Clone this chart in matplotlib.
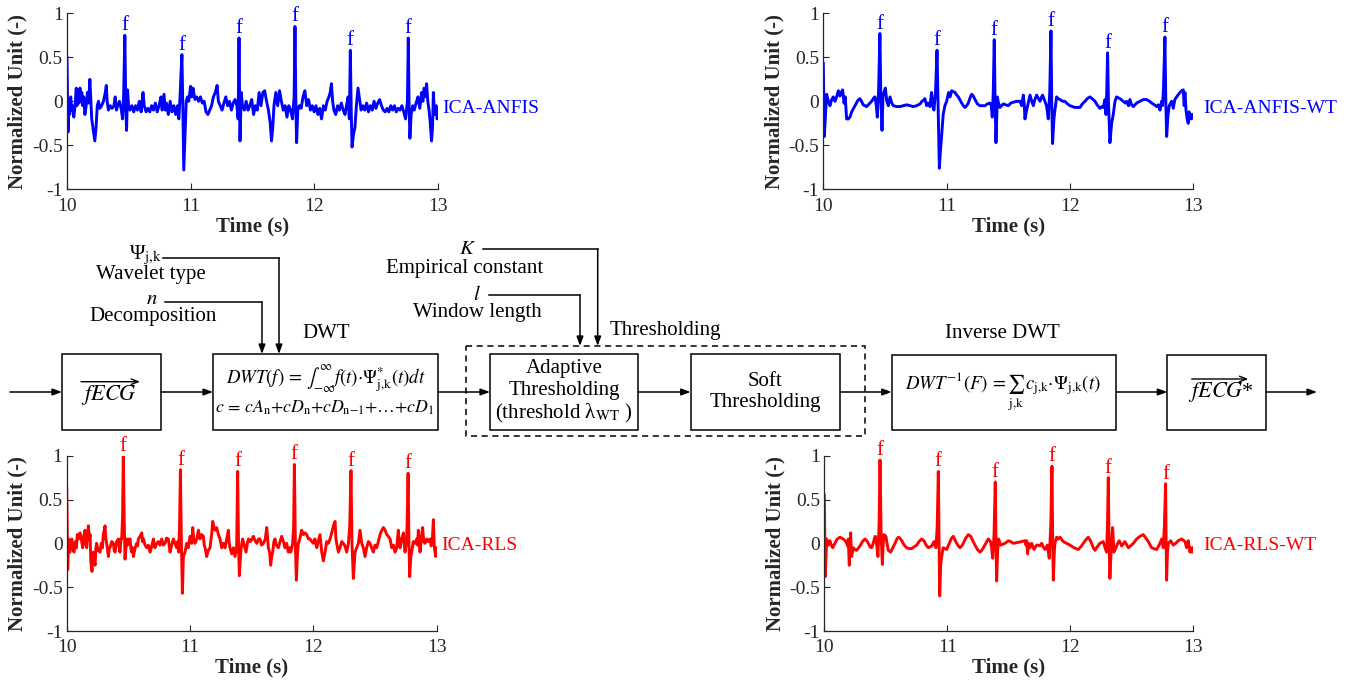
import numpy as np
import matplotlib
matplotlib.use("Agg")
import matplotlib.pyplot as plt
from matplotlib.patches import Rectangle

plt.rcParams["font.family"] = ["Liberation Serif", "DejaVu Serif"]
plt.rcParams["mathtext.fontset"] = "stix"
plt.rcParams["axes.unicode_minus"] = False

W, H = 1347, 683

# (time in s, normalized amplitude) of each extracted fECG trace
ica_anfis = [
    (10.000, 0.50), (10.008, -0.35), (10.015, -0.05), (10.022, -0.15), (10.030, 0.05),
    (10.038, -0.10), (10.045, -0.05), (10.055, -0.18), (10.065, -0.05), (10.075, 0.15),
    (10.080, -0.05), (10.090, 0.12), (10.098, -0.02), (10.105, 0.15), (10.112, 0.00),
    (10.120, 0.10), (10.128, -0.05), (10.135, 0.05), (10.145, -0.15), (10.155, -0.05),
    (10.165, 0.10), (10.175, -0.02), (10.185, 0.25), (10.192, 0.05), (10.200, -0.20),
    (10.210, -0.30), (10.225, -0.45), (10.235, -0.30), (10.245, -0.05), (10.255, 0.00),
    (10.265, -0.08), (10.280, -0.05), (10.295, 0.00), (10.310, 0.10), (10.318, 0.18),
    (10.325, 0.00), (10.335, -0.10), (10.350, -0.05), (10.365, -0.08), (10.380, -0.05),
    (10.390, 0.05), (10.400, -0.10), (10.410, -0.05), (10.425, 0.00), (10.440, -0.10),
    (10.450, -0.20), (10.458, 0.05), (10.468, 0.75), (10.476, -0.05), (10.482, -0.33),
    (10.490, 0.13), (10.498, -0.05), (10.510, -0.10), (10.525, -0.05), (10.540, -0.12),
    (10.555, -0.05), (10.570, -0.10), (10.585, 0.00), (10.600, -0.12), (10.615, 0.10),
    (10.625, -0.05), (10.640, -0.12), (10.655, -0.08), (10.670, -0.12), (10.685, -0.05),
    (10.700, -0.10), (10.715, -0.02), (10.730, -0.12), (10.745, -0.05), (10.760, 0.05),
    (10.770, -0.10), (10.785, 0.08), (10.795, -0.10), (10.805, -0.02), (10.820, -0.15),
    (10.835, 0.00), (10.850, -0.12), (10.865, -0.05), (10.880, -0.15), (10.895, -0.05),
    (10.905, -0.20), (10.915, 0.05), (10.922, 0.30), (10.930, 0.53), (10.938, -0.10),
    (10.945, -0.78), (10.955, -0.40), (10.965, 0.00), (10.975, 0.05), (10.985, 0.00),
    (11.000, 0.17), (11.010, 0.05), (11.020, 0.15), (11.035, 0.02), (11.050, 0.05),
    (11.065, 0.00), (11.080, 0.05), (11.095, -0.02), (11.110, 0.00), (11.125, -0.12),
    (11.140, -0.15), (11.155, -0.10), (11.170, -0.05), (11.185, 0.05), (11.200, 0.10),
    (11.215, 0.18), (11.225, 0.00), (11.240, -0.05), (11.255, -0.10), (11.270, -0.02),
    (11.285, 0.05), (11.300, -0.05), (11.315, 0.00), (11.330, -0.10), (11.345, -0.02),
    (11.360, 0.02), (11.375, -0.05), (11.385, -0.20), (11.392, 0.72), (11.400, -0.45),
    (11.410, 0.10), (11.420, -0.05), (11.435, -0.10), (11.450, 0.00), (11.465, -0.10),
    (11.480, -0.05), (11.495, 0.02), (11.510, -0.15), (11.525, -0.05), (11.540, -0.10),
    (11.555, 0.10), (11.570, -0.05), (11.585, 0.10), (11.600, 0.12), (11.615, 0.00),
    (11.630, -0.10), (11.645, -0.25), (11.655, -0.45), (11.665, -0.30), (11.675, -0.05),
    (11.690, 0.10), (11.705, -0.05), (11.720, 0.12), (11.735, 0.00), (11.750, -0.10),
    (11.765, -0.05), (11.780, -0.18), (11.795, -0.05), (11.810, -0.10), (11.825, -0.20),
    (11.838, 0.05), (11.845, 0.85), (11.852, 0.00), (11.858, -0.47), (11.868, -0.10),
    (11.880, -0.05), (11.895, -0.08), (11.910, 0.05), (11.925, 0.12), (11.940, -0.05),
    (11.955, 0.02), (11.970, -0.10), (11.985, -0.05), (12.000, -0.12), (12.015, -0.05),
    (12.030, -0.15), (12.045, -0.08), (12.060, -0.20), (12.075, -0.05), (12.090, -0.10),
    (12.105, 0.00), (12.120, 0.05), (12.130, 0.10), (12.140, 0.20), (12.150, 0.00),
    (12.160, -0.10), (12.175, -0.15), (12.190, -0.05), (12.205, -0.10), (12.220, -0.02),
    (12.235, -0.10), (12.250, -0.15), (12.262, -0.05), (12.275, 0.05), (12.285, -0.20),
    (12.293, 0.58), (12.300, -0.10), (12.307, -0.52), (12.318, -0.38), (12.330, -0.30),
    (12.342, -0.05), (12.355, 0.15), (12.365, 0.05), (12.380, -0.10), (12.395, -0.05),
    (12.410, -0.10), (12.425, -0.02), (12.440, -0.12), (12.455, -0.05), (12.470, -0.10),
    (12.485, 0.00), (12.500, -0.08), (12.515, -0.02), (12.530, 0.02), (12.545, -0.05),
    (12.560, -0.10), (12.575, -0.12), (12.590, -0.08), (12.605, -0.12), (12.620, -0.05),
    (12.635, -0.10), (12.650, -0.05), (12.665, -0.12), (12.680, -0.08), (12.695, -0.10),
    (12.710, -0.05), (12.725, -0.12), (12.740, -0.20), (12.755, 0.00), (12.762, 0.72),
    (12.768, 0.00), (12.775, -0.42), (12.785, -0.15), (12.798, -0.05), (12.810, -0.10),
    (12.825, -0.02), (12.840, 0.05), (12.855, -0.08), (12.870, 0.10), (12.880, 0.00),
    (12.890, 0.15), (12.900, 0.05), (12.910, 0.20), (12.920, 0.00), (12.930, -0.10),
    (12.940, -0.25), (12.950, -0.45), (12.958, -0.30), (12.965, 0.10), (12.972, -0.10),
    (12.980, -0.15), (12.988, -0.05), (12.995, -0.20), (13.000, -0.18),
]

ica_anfis_wt = [
    (10.000, 0.43), (10.008, -0.40), (10.027, 0.08), (10.041, 0.00), (10.054, -0.05),
    (10.068, 0.02), (10.081, 0.05), (10.095, 0.00), (10.108, 0.05), (10.122, 0.12),
    (10.135, 0.06), (10.145, 0.10), (10.157, 0.13), (10.168, -0.02), (10.178, 0.05),
    (10.189, -0.20), (10.203, -0.20), (10.216, -0.18), (10.230, -0.12), (10.257, -0.05),
    (10.280, 0.01), (10.297, 0.03), (10.310, 0.00), (10.324, -0.04), (10.351, -0.06),
    (10.372, -0.03), (10.392, 0.00), (10.410, 0.04), (10.419, 0.05), (10.430, -0.05),
    (10.438, -0.18), (10.448, 0.10), (10.459, 0.77), (10.466, 0.10), (10.476, -0.33),
    (10.484, 0.05), (10.492, 0.10), (10.503, 0.15), (10.515, 0.00), (10.527, -0.05),
    (10.541, 0.05), (10.555, -0.02), (10.568, -0.05), (10.595, -0.06), (10.622, -0.06),
    (10.650, -0.05), (10.676, -0.04), (10.703, -0.05), (10.730, -0.06), (10.757, -0.05),
    (10.784, -0.03), (10.800, 0.00), (10.811, 0.01), (10.824, 0.03), (10.838, -0.05),
    (10.850, -0.02), (10.865, -0.06), (10.878, 0.10), (10.888, -0.05), (10.897, -0.10),
    (10.910, 0.10), (10.922, 0.58), (10.930, 0.00), (10.941, -0.76), (10.950, -0.55),
    (10.959, -0.40), (10.972, -0.15), (10.986, -0.05), (11.000, 0.00), (11.016, 0.10),
    (11.027, 0.05), (11.041, 0.12), (11.055, 0.11), (11.068, 0.10), (11.082, 0.07),
    (11.095, 0.05), (11.110, 0.01), (11.122, -0.02), (11.135, -0.05), (11.149, -0.07),
    (11.162, -0.05), (11.176, -0.02), (11.190, 0.04), (11.203, 0.08), (11.216, 0.06),
    (11.230, 0.02), (11.250, -0.03), (11.270, -0.05), (11.290, -0.05), (11.311, -0.05),
    (11.330, -0.03), (11.351, -0.02), (11.362, -0.05), (11.370, -0.18), (11.378, 0.10),
    (11.386, 0.70), (11.393, 0.00), (11.400, -0.47), (11.411, 0.05), (11.420, -0.02),
    (11.432, -0.07), (11.445, -0.05), (11.459, -0.03), (11.480, -0.04), (11.500, -0.05),
    (11.520, -0.02), (11.541, -0.01), (11.570, 0.00), (11.595, 0.00), (11.608, -0.05),
    (11.622, 0.07), (11.630, -0.05), (11.635, -0.20), (11.649, -0.10), (11.662, -0.02),
    (11.676, 0.07), (11.690, 0.00), (11.703, -0.05), (11.715, 0.02), (11.730, 0.07),
    (11.745, 0.03), (11.757, 0.00), (11.770, 0.05), (11.778, 0.07), (11.797, 0.00),
    (11.810, -0.05), (11.824, -0.20), (11.836, 0.10), (11.846, 0.80), (11.852, 0.00),
    (11.859, -0.48), (11.870, -0.20), (11.878, -0.10), (11.892, 0.05), (11.905, 0.03),
    (11.919, 0.02), (11.940, 0.00), (11.959, 0.00), (11.980, -0.03), (12.000, -0.05),
    (12.040, -0.07), (12.081, -0.07), (12.100, -0.03), (12.122, 0.00), (12.140, 0.03),
    (12.162, 0.05), (12.180, 0.03), (12.203, 0.00), (12.220, -0.04), (12.243, -0.08),
    (12.258, -0.06), (12.270, -0.07), (12.284, 0.02), (12.292, -0.15), (12.298, 0.10),
    (12.305, 0.55), (12.312, 0.00), (12.324, -0.47), (12.338, -0.25), (12.351, -0.15),
    (12.365, 0.00), (12.378, 0.05), (12.405, 0.03), (12.432, 0.00), (12.450, -0.02),
    (12.459, 0.00), (12.475, -0.05), (12.486, 0.02), (12.500, -0.04), (12.514, -0.06),
    (12.540, -0.02), (12.568, 0.00), (12.595, 0.02), (12.622, 0.02), (12.645, 0.00),
    (12.662, -0.02), (12.685, -0.04), (12.703, -0.06), (12.716, -0.04), (12.730, -0.10),
    (12.743, 0.00), (12.750, -0.05), (12.757, 0.10), (12.770, 0.73), (12.777, 0.00),
    (12.784, -0.40), (12.795, -0.15), (12.805, -0.05), (12.824, 0.00), (12.838, -0.08),
    (12.850, 0.02), (12.865, 0.05), (12.880, 0.08), (12.892, 0.10), (12.905, 0.12),
    (12.919, 0.13), (12.926, -0.05), (12.932, 0.10), (12.941, -0.10), (12.950, -0.20),
    (12.959, -0.25), (12.966, -0.12), (12.973, -0.20), (12.980, -0.15), (12.986, -0.20),
    (12.993, -0.15), (13.000, -0.15),
]

ica_rls = [
    (10.000, 0.63), (10.008, -0.30), (10.016, 0.05), (10.027, -0.10), (10.041, 0.05),
    (10.050, -0.05), (10.059, -0.10), (10.070, 0.02), (10.078, -0.05), (10.086, 0.10),
    (10.095, 0.05), (10.108, 0.12), (10.118, 0.05), (10.130, -0.05), (10.138, 0.08),
    (10.149, 0.15), (10.155, 0.00), (10.162, -0.05), (10.170, 0.10), (10.176, 0.20),
    (10.184, 0.05), (10.190, 0.10), (10.195, -0.20), (10.205, -0.32), (10.216, -0.10),
    (10.222, -0.18), (10.230, -0.25), (10.237, -0.05), (10.243, 0.00), (10.255, -0.08),
    (10.270, -0.10), (10.280, 0.00), (10.290, -0.05), (10.297, 0.10), (10.311, 0.20),
    (10.318, 0.05), (10.324, 0.00), (10.338, -0.15), (10.345, -0.05), (10.351, -0.05),
    (10.365, 0.02), (10.378, 0.00), (10.385, -0.08), (10.392, -0.10), (10.405, 0.02),
    (10.419, 0.05), (10.425, -0.02), (10.432, -0.10), (10.440, 0.05), (10.446, 0.05),
    (10.453, 0.30), (10.459, 1.00), (10.466, 0.30), (10.473, -0.18), (10.480, -0.05),
    (10.486, 0.05), (10.493, -0.02), (10.500, 0.00), (10.507, 0.05), (10.514, 0.05),
    (10.520, -0.05), (10.527, -0.10), (10.535, -0.05), (10.541, -0.15), (10.555, -0.05),
    (10.568, 0.00), (10.575, -0.03), (10.581, 0.05), (10.595, 0.08), (10.608, 0.12),
    (10.615, 0.02), (10.622, 0.05), (10.635, -0.02), (10.649, -0.05), (10.662, -0.02),
    (10.676, -0.10), (10.690, -0.03), (10.703, 0.05), (10.710, -0.03), (10.716, -0.05),
    (10.730, 0.00), (10.743, 0.02), (10.757, -0.02), (10.770, 0.05), (10.783, -0.02),
    (10.797, 0.00), (10.810, 0.06), (10.824, 0.05), (10.831, -0.03), (10.838, -0.10),
    (10.851, -0.02), (10.865, 0.05), (10.878, 0.00), (10.892, -0.05), (10.900, 0.02),
    (10.908, -0.10), (10.915, 0.20), (10.922, 0.84), (10.930, 0.00), (10.938, -0.57),
    (10.946, -0.15), (10.959, -0.10), (10.973, 0.00), (10.986, -0.05), (11.000, 0.08),
    (11.014, 0.00), (11.022, 0.18), (11.030, 0.05), (11.041, 0.00), (11.055, 0.05),
    (11.068, 0.15), (11.081, 0.05), (11.095, 0.10), (11.108, 0.08), (11.115, -0.02),
    (11.122, -0.05), (11.135, -0.15), (11.148, -0.08), (11.162, -0.05), (11.175, 0.10),
    (11.184, 0.25), (11.195, 0.18), (11.203, 0.15), (11.216, 0.18), (11.230, 0.10),
    (11.243, 0.05), (11.257, -0.05), (11.270, 0.00), (11.284, -0.05), (11.297, 0.05),
    (11.311, 0.15), (11.318, 0.00), (11.324, -0.05), (11.338, -0.12), (11.352, -0.05),
    (11.365, -0.15), (11.378, -0.05), (11.386, 0.82), (11.393, 0.00), (11.400, -0.37),
    (11.411, -0.10), (11.420, 0.00), (11.427, 0.05), (11.440, -0.02), (11.454, -0.10),
    (11.465, 0.00), (11.473, 0.05), (11.490, 0.02), (11.514, 0.08), (11.527, 0.03),
    (11.541, 0.00), (11.555, 0.05), (11.568, 0.05), (11.580, -0.02), (11.595, 0.00),
    (11.610, 0.05), (11.622, 0.18), (11.635, -0.05), (11.645, -0.10), (11.654, -0.25),
    (11.662, -0.15), (11.670, -0.10), (11.680, 0.02), (11.689, 0.05), (11.700, -0.02),
    (11.716, -0.05), (11.730, 0.02), (11.743, 0.08), (11.757, 0.02), (11.770, -0.05),
    (11.783, 0.00), (11.797, -0.10), (11.808, -0.05), (11.816, -0.10), (11.825, -0.05),
    (11.832, 0.00), (11.840, 0.20), (11.846, 0.90), (11.854, 0.00), (11.862, -0.42),
    (11.870, -0.15), (11.878, 0.00), (11.890, 0.05), (11.905, 0.15), (11.919, 0.10),
    (11.932, 0.12), (11.946, 0.10), (11.960, 0.05), (11.973, 0.05), (11.987, 0.02),
    (12.000, 0.00), (12.013, 0.05), (12.027, -0.05), (12.040, 0.02), (12.054, 0.10),
    (12.068, -0.10), (12.081, -0.20), (12.095, -0.10), (12.108, 0.02), (12.122, 0.00),
    (12.135, 0.05), (12.149, 0.12), (12.162, 0.20), (12.176, 0.25), (12.183, 0.05),
    (12.189, 0.00), (12.203, -0.10), (12.216, -0.05), (12.230, 0.02), (12.243, 0.00),
    (12.256, -0.03), (12.270, -0.10), (12.284, 0.00), (12.295, 0.20), (12.305, 0.83),
    (12.313, 0.00), (12.324, -0.40), (12.338, -0.10), (12.351, -0.05), (12.365, 0.00),
    (12.378, 0.15), (12.392, 0.00), (12.405, -0.05), (12.419, -0.15), (12.432, -0.05),
    (12.446, 0.02), (12.459, 0.00), (12.472, -0.05), (12.486, -0.10), (12.500, -0.02),
    (12.514, -0.05), (12.527, 0.02), (12.541, 0.10), (12.555, 0.15), (12.568, 0.18),
    (12.581, 0.15), (12.595, 0.10), (12.608, 0.08), (12.622, 0.05), (12.635, -0.05),
    (12.649, -0.02), (12.662, -0.10), (12.676, -0.05), (12.689, 0.15), (12.696, 0.00),
    (12.703, -0.05), (12.716, 0.05), (12.730, 0.12), (12.736, 0.00), (12.743, -0.10),
    (12.754, 0.00), (12.760, 0.20), (12.768, 0.80), (12.775, 0.00), (12.781, -0.38),
    (12.790, -0.15), (12.797, -0.10), (12.810, 0.02), (12.824, 0.00), (12.838, 0.05),
    (12.845, -0.02), (12.851, 0.15), (12.858, 0.00), (12.865, -0.10), (12.875, 0.05),
    (12.886, 0.18), (12.895, 0.02), (12.905, 0.00), (12.919, 0.05), (12.932, 0.02),
    (12.946, 0.05), (12.955, -0.03), (12.965, 0.05), (12.973, 0.27), (12.981, -0.05),
    (12.992, -0.15), (13.000, -0.05),
]

ica_rls_wt = [
    (10.000, 0.55), (10.008, -0.38), (10.019, 0.05), (10.033, -0.02), (10.046, 0.03),
    (10.057, -0.02), (10.068, -0.05), (10.087, 0.00), (10.105, 0.05), (10.127, 0.07),
    (10.154, 0.05), (10.176, 0.02), (10.190, -0.03), (10.195, 0.05), (10.203, -0.25),
    (10.214, 0.12), (10.222, -0.15), (10.236, -0.05), (10.250, -0.07), (10.263, -0.08),
    (10.290, -0.03), (10.310, 0.02), (10.331, 0.05), (10.345, 0.03), (10.358, 0.00),
    (10.372, -0.04), (10.385, -0.05), (10.398, 0.00), (10.408, 0.06), (10.415, 0.08),
    (10.425, 0.00), (10.436, -0.15), (10.445, 0.20), (10.453, 0.95), (10.462, 0.10),
    (10.472, -0.24), (10.479, 0.00), (10.485, 0.10), (10.501, 0.08), (10.510, 0.00),
    (10.520, -0.08), (10.539, -0.10), (10.557, -0.05), (10.575, 0.00), (10.590, 0.05),
    (10.602, 0.07), (10.615, 0.06), (10.629, 0.03), (10.650, -0.02), (10.669, -0.05),
    (10.690, -0.06), (10.710, -0.06), (10.730, -0.04), (10.751, -0.02), (10.770, 0.02),
    (10.791, 0.05), (10.810, 0.03), (10.828, -0.02), (10.846, -0.05), (10.860, -0.04),
    (10.873, -0.03), (10.892, 0.02), (10.900, -0.02), (10.908, -0.05), (10.918, 0.20),
    (10.927, 0.82), (10.933, 0.00), (10.938, -0.60), (10.946, -0.25), (10.954, -0.15),
    (10.967, -0.05), (10.980, -0.06), (10.995, -0.07), (11.010, -0.02), (11.022, 0.02),
    (11.035, 0.06), (11.049, 0.08), (11.062, 0.04), (11.076, 0.00), (11.090, -0.03),
    (11.103, -0.05), (11.117, -0.03), (11.130, 0.00), (11.150, 0.06), (11.171, 0.10),
    (11.190, 0.08), (11.207, 0.03), (11.225, -0.02), (11.245, -0.07), (11.266, -0.10),
    (11.280, -0.08), (11.293, -0.05), (11.313, 0.00), (11.333, 0.05), (11.352, 0.02),
    (11.360, -0.05), (11.369, -0.17), (11.380, 0.10), (11.390, 0.70), (11.396, 0.00),
    (11.401, -0.43), (11.409, -0.10), (11.417, 0.05), (11.434, -0.02), (11.450, -0.01),
    (11.469, 0.00), (11.496, 0.03), (11.515, 0.02), (11.537, 0.00), (11.570, 0.01),
    (11.604, 0.02), (11.631, 0.03), (11.640, -0.02), (11.645, 0.03), (11.653, -0.12),
    (11.661, 0.00), (11.672, -0.05), (11.686, 0.00), (11.705, -0.07), (11.726, -0.02),
    (11.740, -0.02), (11.753, -0.03), (11.767, 0.00), (11.780, -0.04), (11.794, -0.07),
    (11.813, -0.02), (11.829, -0.17), (11.841, 0.20), (11.851, 0.88), (11.857, 0.00),
    (11.862, -0.42), (11.870, -0.10), (11.875, 0.00), (11.889, 0.07), (11.902, 0.05),
    (11.916, 0.07), (11.943, 0.02), (11.970, 0.00), (11.997, -0.02), (12.030, -0.05),
    (12.065, -0.07), (12.085, -0.04), (12.106, 0.00), (12.126, 0.04), (12.146, 0.07),
    (12.160, 0.04), (12.173, 0.00), (12.187, -0.05), (12.201, -0.08), (12.214, -0.05),
    (12.240, 0.00), (12.268, 0.02), (12.282, -0.05), (12.295, -0.10), (12.302, 0.20),
    (12.309, 0.75), (12.315, 0.00), (12.322, -0.40), (12.333, -0.05), (12.344, 0.18),
    (12.355, -0.10), (12.371, -0.05), (12.385, 0.00), (12.398, 0.03), (12.417, -0.03),
    (12.444, 0.02), (12.472, -0.05), (12.490, -0.03), (12.512, 0.00), (12.540, 0.05),
    (12.566, 0.08), (12.593, 0.10), (12.615, 0.06), (12.634, 0.02), (12.661, -0.05),
    (12.680, -0.06), (12.702, -0.07), (12.729, 0.00), (12.743, 0.05), (12.756, -0.05),
    (12.765, 0.20), (12.775, 0.68), (12.779, 0.00), (12.783, -0.42), (12.790, -0.10),
    (12.797, 0.00), (12.816, 0.03), (12.837, -0.02), (12.857, 0.00), (12.878, 0.03),
    (12.905, 0.05), (12.932, 0.02), (12.946, -0.05), (12.959, 0.03), (12.973, -0.10),
    (12.981, -0.05), (12.989, -0.10), (13.000, -0.05),
]

x_ticks = [10, 11, 12, 13]
y_ticks = [-1, -0.5, 0, 0.5, 1]
y_tick_labels = ["-1", "-0.5", "0", "0.5", "1"]

# name, colour, axes box in pixels (left, top, right, bottom), name offset (s), name height
panels = [
    (ica_anfis, "ICA-ANFIS", "#0000ff", (67, 13.3, 437.7, 189.3), 0.04, -0.08),
    (ica_anfis_wt, "ICA-ANFIS-WT", "#0000ff", (823.3, 13.3, 1193.3, 189.3), 0.08, -0.08),
    (ica_rls, "ICA-RLS", "#ff0000", (66.7, 455.7, 436.7, 631), 0.04, -0.03),
    (ica_rls_wt, "ICA-RLS-WT", "#ff0000", (824.3, 455.7, 1193.3, 631), 0.08, -0.03),
]

AX_COLOR = "#262626"

fig = plt.figure(figsize=(W / 100, H / 100), dpi=100)


def px_rect(x0, y0, x1, y1):
    return [x0 / W, 1 - y1 / H, (x1 - x0) / W, (y1 - y0) / H]


def draw_panel(data, name, color, box, name_dx, name_y):
    ax = fig.add_axes(px_rect(*box))
    t, v = np.array(data).T
    ax.plot(t, v, color=color, lw=2.1, solid_joinstyle="round")
    ax.set_xlim(10, 13)
    ax.set_ylim(-1, 1)
    ax.set_xticks(x_ticks)
    ax.set_yticks(y_ticks)
    ax.set_yticklabels(y_tick_labels)
    for side in ("top", "right"):
        ax.spines[side].set_visible(False)
    for side in ("left", "bottom"):
        ax.spines[side].set_color(AX_COLOR)
        ax.spines[side].set_linewidth(0.9)
    ax.tick_params(direction="in", length=4, width=0.8, labelsize=14,
                   colors=AX_COLOR)
    ax.tick_params(axis="x", pad=6)
    ax.tick_params(axis="y", pad=3)
    ax.set_xlabel("Time (s)", fontsize=15, fontweight="bold", labelpad=1,
                  color=AX_COLOR)
    ax.set_ylabel("Normalized Unit (-)", fontsize=15, fontweight="bold",
                  labelpad=3, color=AX_COLOR)
    ax.patch.set_alpha(0)

    # mark the fetal R peaks
    peaks = np.where((v > 0.45) & (t > 10.05))[0]
    for i in peaks:
        ax.annotate("f", (t[i], v[i]), xytext=(0, 0), textcoords="offset points",
                    ha="center", va="bottom", fontsize=15, color=color,
                    annotation_clip=False)

    ax.text(13 + name_dx, name_y, name, color=color, fontsize=14,
            ha="left", va="center", clip_on=False)


# block diagram of the wavelet denoising stage, drawn in pixel units
d = fig.add_axes([0, 0, 1, 1])
d.set_xlim(0, W)
d.set_ylim(H, 0)
d.axis("off")

LW = 1.1
ARROW = dict(arrowstyle="-|>,head_length=0.55,head_width=0.2", lw=LW,
             color="k", shrinkA=0, shrinkB=0)


def block(x0, y0, x1, y1, ls="-"):
    d.add_patch(Rectangle((x0, y0), x1 - x0, y1 - y0, fill=False, lw=LW,
                          ls=ls, ec="k"))


def arrow(x0, y0, x1, y1, props=ARROW):
    d.annotate("", xy=(x1, y1), xytext=(x0, y0), arrowprops=props)


def label(x, y, s, size=15, **kw):
    d.text(x, y, s, fontsize=size, ha="center", va="center", **kw)


yc = 392
block(62, 354, 161, 430)
block(213, 354, 437.7, 430)
block(466, 346, 865, 436, ls=(0, (4, 3)))
block(490, 354, 638.3, 430)
block(690.7, 354, 840, 430)
block(891.7, 355, 1116, 430)
block(1167.3, 355, 1265.7, 430)

for x0, x1 in [(10, 62), (161, 213), (437.7, 490), (638.3, 690.7),
               (840, 891.7), (1116, 1167.3), (1265.7, 1317)]:
    arrow(x0, yc, x1, yc)

# parameter inputs
for x0, x1, y0, y1 in [(163, 279, 257.7, 354), (165, 262, 302, 354),
                       (482.7, 597.7, 249, 346), (489, 580, 295, 346)]:
    d.plot([x0, x1], [y0, y0], color="k", lw=LW)
    arrow(x1, y0, x1, y1)

JK = r"\mathrm{j{,}k}"

label(145, 255, "Ψ$_{" + JK + "}$")
label(151, 274, "Wavelet type")
label(152, 299, "$n$")
label(153, 316, "Decomposition")
label(326, 334, "DWT")
label(468, 250, "$K$")
label(465, 268, "Empirical constant")
label(477, 296, "$l$")
label(477.5, 313, "Window length")
label(665, 330, "Thresholding")
label(1002, 334, "Inverse DWT")

OVER = dict(arrowstyle="->,head_length=0.5,head_width=0.2", lw=1.0,
            color="k", shrinkA=0, shrinkB=0)
label(109, 395, "$fECG$", size=16)
arrow(81, 381.7, 140, 381.7, OVER)
label(1221, 392, "$fECG$*", size=16)
arrow(1191.7, 379, 1248.3, 379, OVER)

label(326, 380,
      r"$DWT(f)\,{=}\,\int_{-\infty}^{\infty}f(t){\cdot}\Psi^{*}_{" + JK + r"}(t)dt$",
      size=13.5)
label(325, 408,
      r"$c\,{=}\,cA_{\mathrm{n}}{+}cD_{\mathrm{n}}{+}cD_{\mathrm{n{-}1}}{+}\ldots{+}cD_{\mathrm{1}}$",
      size=12.8)

label(564, 369, "Adaptive")
label(564, 391, "Thresholding")
label(564, 413, "(threshold λ$_{\\mathrm{WT}}$ )")
label(765, 381, "Soft")
label(765, 403, "Thresholding")

label(1003, 392,
      r"$DWT^{-1}(F)\,{=}\sum_{" + JK + r"}\,c_{" + JK + r"}{\cdot}\Psi_{" + JK + r"}(t)$",
      size=13.5)

for p in panels:
    draw_panel(*p)

fig.savefig("out.png", dpi=100)
